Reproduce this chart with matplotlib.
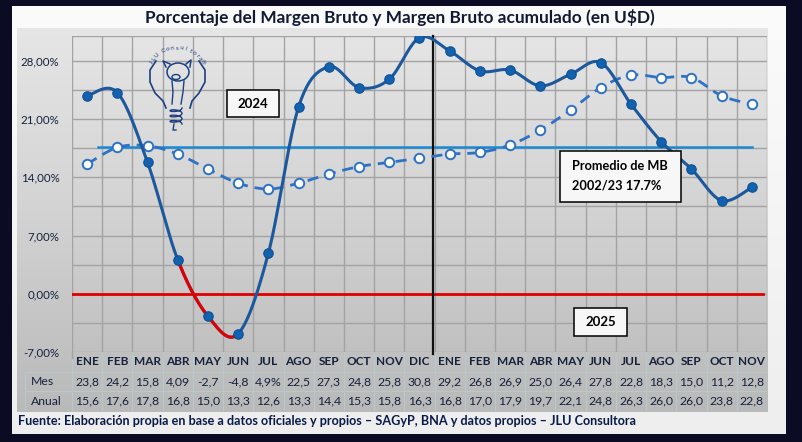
import numpy as np
import matplotlib
matplotlib.use("Agg")
import matplotlib.pyplot as plt
from matplotlib.patches import Rectangle, Ellipse

meses = ["ENE", "FEB", "MAR", "ABR", "MAY", "JUN", "JUL", "AGO", "SEP", "OCT", "NOV", "DIC",
         "ENE", "FEB", "MAR", "ABR", "MAY", "JUN", "JUL", "AGO", "SEP", "OCT", "NOV"]
mes = [23.8, 24.2, 15.8, 4.09, -2.7, -4.8, 4.9, 22.5, 27.3, 24.8, 25.8, 30.8,
       29.2, 26.8, 26.9, 25.0, 26.4, 27.8, 22.8, 18.3, 15.0, 11.2, 12.8]
anual = [15.6, 17.6, 17.8, 16.8, 15.0, 13.3, 12.6, 13.3, 14.4, 15.3, 15.8, 16.3,
         16.8, 17.0, 17.9, 19.7, 22.1, 24.8, 26.3, 26.0, 26.0, 23.8, 22.8]
mes_txt = ["23,8", "24,2", "15,8", "4,09", "-2,7", "-4,8", "4,9%", "22,5", "27,3", "24,8", "25,8", "30,8",
           "29,2", "26,8", "26,9", "25,0", "26,4", "27,8", "22,8", "18,3", "15,0", "11,2", "12,8"]
anual_txt = ["15,6", "17,6", "17,8", "16,8", "15,0", "13,3", "12,6", "13,3", "14,4", "15,3", "15,8", "16,3",
             "16,8", "17,0", "17,9", "19,7", "22,1", "24,8", "26,3", "26,0", "26,0", "23,8", "22,8"]
promedio_mb = 17.7
tramo_rojo = (3, 5)  # ABR -> JUN 2024
yticks = [-7, 0, 7, 14, 21, 28]
ytick_labels = ["-7,00%", "0,00%", "7,00%", "14,00%", "21,00%", "28,00%"]

W, H = 803, 442
NAVY = "#0b0c24"
TXT = "#14213d"
FONT = ["Lato", "DejaVu Sans"]
plt.rcParams["font.family"] = FONT


def px(x0, y0, x1, y1):
    return [x0 / W, 1 - y1 / H, (x1 - x0) / W, (y1 - y0) / H]


def smooth(xs, ys, n=24):
    # curva suavizada tipo Excel (Bezier / Catmull-Rom)
    p = np.column_stack([xs, ys]).astype(float)
    ext = np.vstack([p[0], p, p[-1]])
    out = []
    for i in range(len(p) - 1):
        p0, p1, p2, p3 = ext[i], ext[i + 1], ext[i + 2], ext[i + 3]
        c1 = p1 + (p2 - p0) / 6
        c2 = p2 - (p3 - p1) / 6
        t = np.linspace(0, 1, n)[:, None]
        seg = (1 - t) ** 3 * p1 + 3 * (1 - t) ** 2 * t * c1 + 3 * (1 - t) * t ** 2 * c2 + t ** 3 * p2
        out.append(seg if i == 0 else seg[1:])
    s = np.vstack(out)
    return s[:, 0], s[:, 1]


fig = plt.figure(figsize=(W / 100, H / 100), dpi=100)
fig.patch.set_facecolor(NAVY)

# panel claro
bg = fig.add_axes(px(12, 6, 786, 434))
grad = np.linspace(0, 1, 256)[:, None]
bg.imshow(grad, aspect="auto", cmap=matplotlib.colors.LinearSegmentedColormap.from_list(
    "p", ["#fbfbfb", "#eeeeee"]), extent=[0, 1, 0, 1])
bg.axis("off")

# area del grafico (gris degradado)
area = fig.add_axes(px(17, 28, 768, 412))
area.imshow(grad, aspect="auto", cmap=matplotlib.colors.LinearSegmentedColormap.from_list(
    "g", ["#e6e6e6", "#d2d2d2", "#b9b9b9"]), extent=[0, 1, 0, 1])
area.axis("off")

ax = fig.add_axes(px(72, 36, 767, 352))
ax.set_facecolor("none")
x = np.arange(len(meses))
ax.set_xlim(-0.5, len(meses) - 0.5)
ax.set_ylim(-7, 31)

for xb in np.arange(-0.5, len(meses) + 0.5, 1):
    ax.axvline(xb, color="#a3a3a3", lw=1, zorder=1)
for yg in np.arange(-7, 31, 3.5):
    ax.axhline(yg, color="#a3a3a3", lw=1, zorder=1)
ax.axhline(31, color="#a3a3a3", lw=1, zorder=1)

ax.plot([-0.5, 22.38], [0, 0], color="#e00000", lw=2, zorder=3)
ax.plot([0.35, 22], [promedio_mb, promedio_mb], color="#1a8ad4", lw=1.8, zorder=3)
ax.plot([11.45, 11.45], [-7.3, 31], color="#111111", lw=1.6, zorder=4, clip_on=False)

sx, sy = smooth(x, anual)
ax.plot(sx, sy, color="#2d72c4", lw=2, dashes=(4, 2.5), zorder=5)
ax.plot(x, anual, ls="none", marker="o", ms=6.8, mfc="white", mec="#2d72c4", mew=1.4, zorder=6)

sx, sy = smooth(x, mes)
ax.plot(sx, sy, color="#1c589c", lw=2.2, zorder=7)
n = 24
a, b = tramo_rojo
ax.plot(sx[a * (n - 1): b * (n - 1) + 1], sy[a * (n - 1): b * (n - 1) + 1], color="#e00000", lw=2.2, zorder=8)
ax.plot(x, mes, ls="none", marker="o", ms=6.8, mfc="#1362b0", mec="#0f4f92", mew=0.8, zorder=9)

ax.set_xticks([])
ax.set_yticks(yticks)
ax.set_yticklabels(ytick_labels, fontsize=8.3, color=TXT)
ax.tick_params(axis="y", length=0, pad=9)
for s in ax.spines.values():
    s.set_visible(False)

# tabla de datos
tb = fig.add_axes(px(25, 352, 767, 411))
tb.set_facecolor("none")
x_left = -0.5 - 47 / 30.2
tb.set_xlim(x_left, len(meses) - 0.5)
tb.set_ylim(3, 0)
tb.axis("off")
for xb in np.arange(-0.5, len(meses) + 0.5, 1):
    tb.plot([xb, xb], [0, 3], color="#b7c9cc", lw=0.8)
tb.plot([-0.5, -0.5], [0, 0.3], color="#a3a3a3", lw=1)
for yr in [1, 2, 3]:
    tb.plot([x_left, len(meses) - 0.5], [yr, yr], color="#b7c9cc", lw=0.8)
tb.plot([x_left, x_left], [1, 3], color="#b7c9cc", lw=0.8)
for i, m in enumerate(meses):
    tb.text(i, 0.5, m, ha="center", va="center", fontsize=8.5, color=TXT, fontweight="bold")
    tb.text(i, 1.5, mes_txt[i], ha="center", va="center", fontsize=8.8, color=TXT)
    tb.text(i, 2.5, anual_txt[i], ha="center", va="center", fontsize=8.8, color=TXT)
tb.text(x_left + 0.2, 1.5, "Mes", ha="left", va="center", fontsize=8.8, color=TXT)
tb.text(x_left + 0.2, 2.5, "Anual", ha="left", va="center", fontsize=8.8, color=TXT)

# titulo y fuente
fig.text(400 / W, 1 - 18 / H, "Porcentaje del Margen Bruto y Margen Bruto acumulado (en U$D)",
         ha="center", va="center", fontsize=12.4, fontweight="bold", color="#111a33")
fig.text(18 / W, 1 - 421 / H,
         "Fuente: Elaboración propia en base a datos oficiales y propios – SAGyP, BNA y datos propios – JLU Consultora",
         ha="left", va="center", fontsize=9.1, fontweight="bold", color="#0a1a4a")


def caja(x0, y0, x1, y1):
    fig.add_artist(Rectangle((x0 / W, 1 - y1 / H), (x1 - x0) / W, (y1 - y0) / H,
                             transform=fig.transFigure, facecolor="#f7f7f7",
                             edgecolor="black", lw=1.1, zorder=10))


caja(227, 90, 279, 117)
fig.text(253 / W, 1 - 104 / H, "2024", ha="center", va="center", fontsize=9.5,
         fontweight="bold", color="black", zorder=11)
caja(574, 308, 627, 336)
fig.text(600.5 / W, 1 - 322 / H, "2025", ha="center", va="center", fontsize=9.5,
         fontweight="bold", color="black", zorder=11)
caja(560, 151, 681, 202)
fig.text(572 / W, 1 - 166 / H, "Promedio de MB", ha="left", va="center", fontsize=9.2,
         fontweight="bold", color="black", zorder=11)
fig.text(572 / W, 1 - 185 / H, "2002/23 17.7%", ha="left", va="center", fontsize=9.2,
         fontweight="bold", color="black", zorder=11)

# logo aproximado (bombilla con cerdito), en pixeles
lg = fig.add_axes(px(140, 38, 220, 133))
lg.set_xlim(140, 220)
lg.set_ylim(133, 38)
lg.axis("off")
lc = "#1d3f80"
left = np.array([[156, 61], [150, 70], [150, 82], [155, 93], [163, 101], [166, 108]])
right = np.array([[199, 61], [205, 70], [205, 82], [199, 93], [192, 101], [190, 108]])
lg.plot(*left.T, color=lc, lw=1.2)
lg.plot(*right.T, color=lc, lw=1.2)
lg.add_patch(Ellipse((178, 72), 22, 18, fill=False, edgecolor=lc, lw=1.1))
lg.plot([166, 163, 170], [67, 61, 64], color=lc, lw=1.1)
lg.plot([186, 191, 190], [64, 60, 67], color=lc, lw=1.1)
lg.add_patch(Ellipse((176, 77), 8, 5, fill=False, edgecolor=lc, lw=1))
lg.plot([172, 173, 172], [81, 92, 104], color=lc, lw=1)
lg.plot([184, 183, 181], [81, 92, 104], color=lc, lw=1)
tc = np.linspace(0, 3 * 2 * np.pi, 80)
lg.plot(176 + 6 * np.cos(tc), np.linspace(108, 124, 80) + 2 * np.sin(tc), color=lc, lw=1)
lg.plot([174, 173, 176], [124, 130, 130], color=lc, lw=1)
etiqueta = "JLU Consultora®"
angs = np.linspace(158, 22, len(etiqueta))
for ch, an in zip(etiqueta, angs):
    r = np.radians(an)
    lg.text(177 + 27 * np.cos(r), 70 - 22 * np.sin(r), ch, ha="center", va="center",
            fontsize=4.6, color=lc, rotation=an - 90)

fig.savefig("out.png", dpi=100, facecolor=fig.get_facecolor())
